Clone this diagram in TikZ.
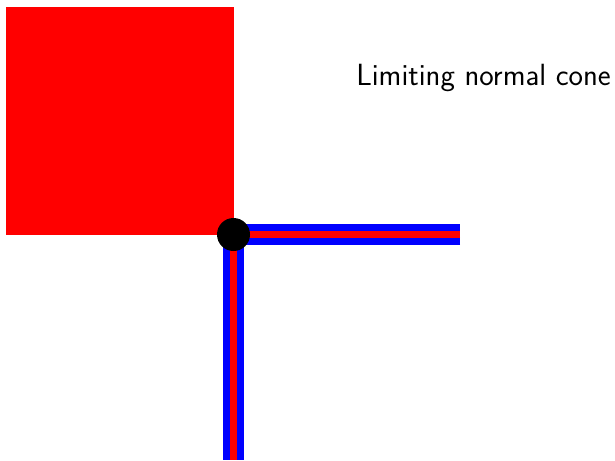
\documentclass[tikz,border=0pt]{standalone}
\begin{document}
\begin{tikzpicture}[x=0.025cm,y=-0.025cm,
    outer/.style={draw=blue, line width=15.6pt},
    inner/.style={draw=red, line width=5.4pt}]
        \useasboundingbox (0, 0) rectangle (615, 460);
        \fill[red] (6, 7) rectangle (234, 235);
        \coordinate (corner) at (233.5, 234.5);
        \coordinate (east) at (460, 234.5);
        \coordinate (south) at (233.5, 460);
        \draw[outer] (east) -- (corner) -- (south);
        \draw[inner] (east) -- (corner) -- (south);
        \node[circle, fill=black, inner sep=0pt, minimum size=0.825cm] (point) at (corner) {};
        \node[anchor=base west, inner sep=0pt, font=\sffamily\fontsize{21.8}{26}\selectfont] (label) at (356, 85) {Limiting normal cone};
      \end{tikzpicture}
\end{document}
